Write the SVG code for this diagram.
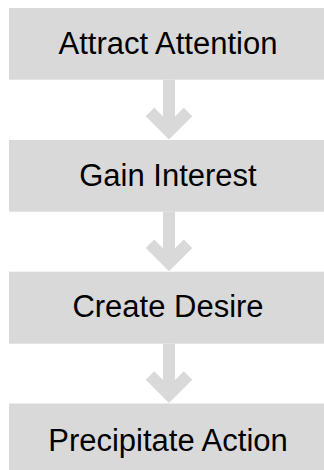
<svg xmlns="http://www.w3.org/2000/svg" width="324" height="470" viewBox="0 0 324 470">
  <style>
    .box { fill: #d9d9d9; }
    .label { font-family: "Liberation Sans", Arial, sans-serif; font-size: 31px; fill: #000; text-anchor: middle; }
    .shaft { stroke: #d9d9d9; stroke-width: 12; fill: none; }
    .head { stroke: #d9d9d9; stroke-width: 12; fill: none; stroke-linejoin: miter; stroke-linecap: butt; }
  </style>
  <rect width="324" height="470" fill="#ffffff"/>

  <g id="connectors">
    <g id="arrow-1">
      <line class="shaft" x1="169" y1="79.7" x2="169" y2="131"/>
      <polyline class="head" points="150,112 169,131 188,112"/>
    </g>
    <g id="arrow-2">
      <line class="shaft" x1="169" y1="211.7" x2="169" y2="262.7"/>
      <polyline class="head" points="150,243.7 169,262.7 188,243.7"/>
    </g>
    <g id="arrow-3">
      <line class="shaft" x1="169" y1="343.7" x2="169" y2="394.5"/>
      <polyline class="head" points="150,375.5 169,394.5 188,375.5"/>
    </g>
  </g>

  <g id="node-attract">
    <rect class="box" x="9" y="8" width="320" height="71.7"/>
    <text class="label" x="168" y="54.3">Attract Attention</text>
  </g>
  <g id="node-interest">
    <rect class="box" x="9" y="140" width="320" height="71.7"/>
    <text class="label" x="168" y="185.7">Gain Interest</text>
  </g>
  <g id="node-desire">
    <rect class="box" x="9" y="271.7" width="320" height="72"/>
    <text class="label" x="168" y="317">Create Desire</text>
  </g>
  <g id="node-action">
    <rect class="box" x="9" y="403.5" width="320" height="72"/>
    <text class="label" x="168" y="451">Precipitate Action</text>
  </g>
</svg>
